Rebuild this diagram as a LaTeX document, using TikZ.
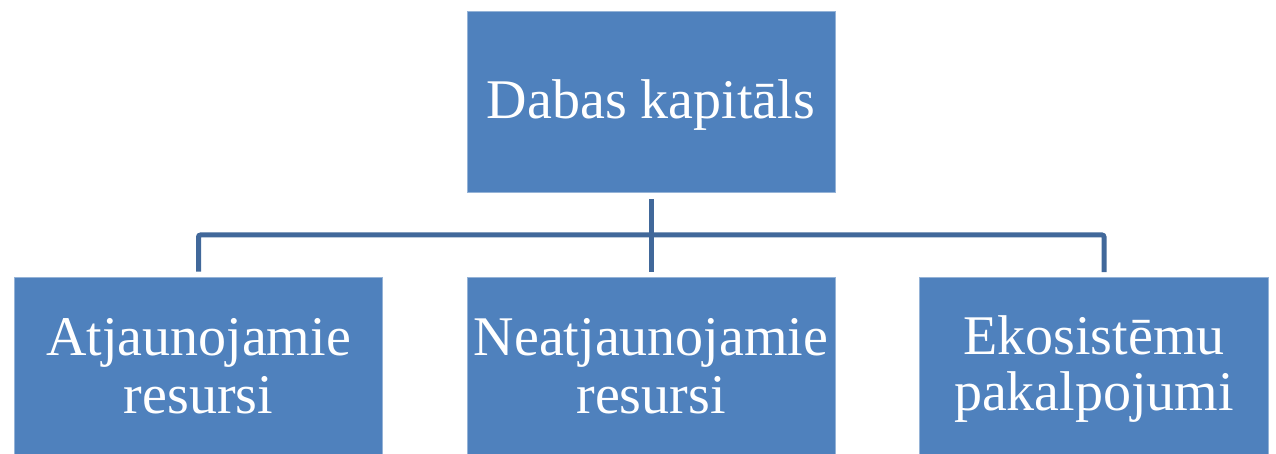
\documentclass[tikz,border=0pt]{standalone}
\usepackage{fontspec}
\setmainfont{Liberation Serif}
\definecolor{boxblue}{HTML}{4F81BD}
\definecolor{linkblue}{HTML}{41689A}
\begin{document}
\begin{tikzpicture}[x=1pt,y=-1pt,
  box/.style={rectangle, fill=boxblue, draw=boxblue!60!white, line width=1pt,
    minimum width=368pt, inner sep=0pt},
  txt/.style={inner sep=0pt, text=white, align=center,
    font=\fontsize{56pt}{58pt}\selectfont},
  conn/.style={draw=linkblue, line width=5pt}]
\useasboundingbox (0,0) rectangle (1276,454);
\node[box, minimum height=181pt] (top) at (651,102.5) {};
\node[box, minimum height=177pt] (b1) at (198.5,365.5) {};
\node[box, minimum height=177pt] (b2) at (651,365.5) {};
\node[box, minimum height=177pt, minimum width=349pt] (b3) at (1094,365.5) {};
\node[txt] (t0) at (651,107.4) {\strut Dabas kapit\=als};
\node[txt] (t1) at (198.5,372.4) {\strut Atjaunojamie\\\strut resursi};
\node[txt] (t2) at (651,372.4) {\strut Neatjaunojamie\\\strut resursi};
\node[txt, font=\fontsize{56pt}{55pt}\selectfont] (t3) at (1094,371.5) {\strut Ekosist\=emu\\\strut pakalpojumi};
\coordinate (j) at (651,235);
\draw[conn, shorten <=6pt, shorten >=5pt] (top.south) -- (b2.north);
\draw[conn, rounded corners=2pt, shorten <=5pt, shorten >=5pt]
  (b1.north) -- (b1.north |- j) -- (1104,235) -- (1104,277);
\end{tikzpicture}
\end{document}
